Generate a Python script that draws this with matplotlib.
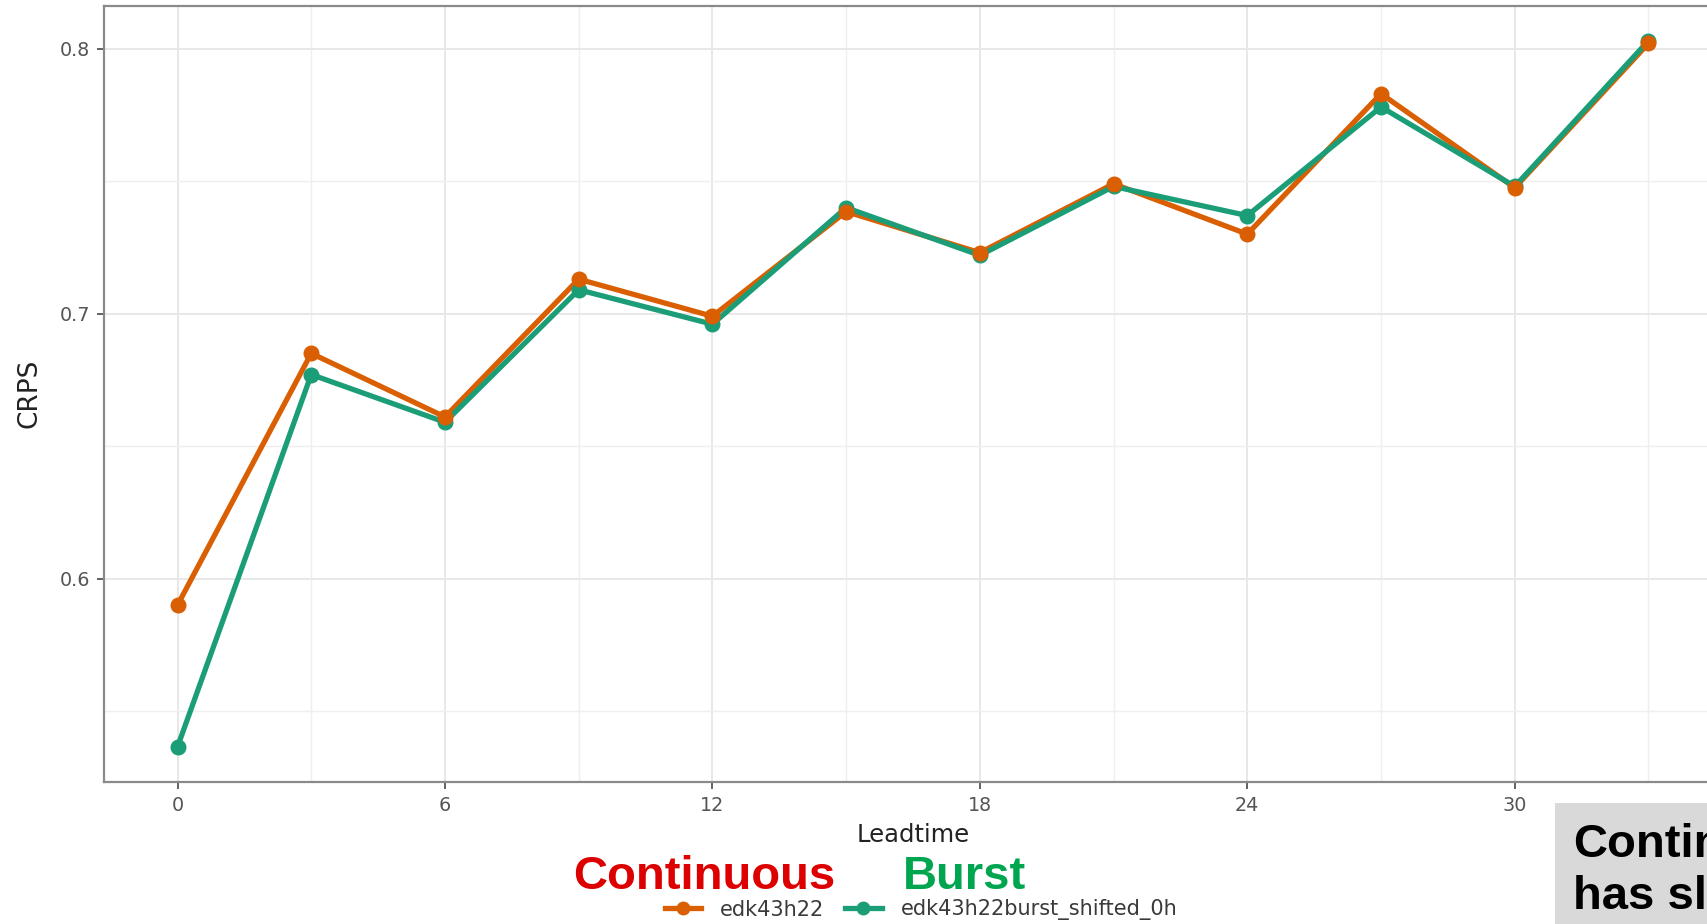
import matplotlib
matplotlib.use('Agg')
import matplotlib.pyplot as plt
from matplotlib.lines import Line2D
from matplotlib.patches import Rectangle

# CRPS by leadtime for the two runs
leadtime = [0, 3, 6, 9, 12, 15, 18, 21, 24, 27, 30, 33]
crps_continuous = [0.590, 0.685, 0.661, 0.713, 0.699, 0.7385, 0.723, 0.749, 0.730, 0.783, 0.7475, 0.802]
crps_burst = [0.5365, 0.677, 0.659, 0.709, 0.696, 0.740, 0.722, 0.748, 0.737, 0.778, 0.748, 0.803]
series_names = ['edk43h22', 'edk43h22burst_shifted_0h']

x_ticks = [0, 6, 12, 18, 24, 30]
x_minor = [3, 9, 15, 21, 27, 33]
y_ticks = [0.6, 0.7, 0.8]
y_minor = [0.55, 0.65, 0.75]

orange = '#D95F02'
green = '#1B9E77'

plt.rcParams['font.family'] = ['DejaVu Sans']

W, H = 1707, 924
fig = plt.figure(figsize=(W / 100, H / 100), dpi=100)

# panel runs past the right edge of the figure
left, right, top, bottom = 104, 1722, 5.5, 782
ax = fig.add_axes([left / W, (H - bottom) / H, (right - left) / W, (bottom - top) / H])

ax.plot(leadtime, crps_continuous, color=orange, lw=3.8, zorder=3)
ax.plot(leadtime, crps_burst, color=green, lw=3.8, zorder=3)
ax.plot(leadtime, crps_burst, 'o', color=green, ms=10.5, zorder=4)
ax.plot(leadtime, crps_continuous, 'o', color=orange, ms=10.5, zorder=4)

ax.set_xlim(-1.65, 34.65)
ax.set_ylim(0.5232, 0.8163)
ax.set_xticks(x_ticks)
ax.set_xticks(x_minor, minor=True)
ax.set_yticks(y_ticks)
ax.set_yticks(y_minor, minor=True)
ax.set_yticklabels([f'{v:.1f}' for v in y_ticks])

ax.grid(which='major', color='#e8e8e8', lw=1.4, zorder=0)
ax.grid(which='minor', color='#efefef', lw=1.0, zorder=0)
ax.tick_params(which='major', length=5, width=1.3, color='#555555',
               labelcolor='#555555', labelsize=13.8, pad=5)
ax.tick_params(which='minor', length=0)
for s in ax.spines.values():
    s.set_color('#8a8a8a')
    s.set_linewidth(1.6)

ax.set_xlabel('Leadtime', fontsize=17.5, color='#222222', labelpad=6)
ax.set_ylabel('CRPS', fontsize=19, color='#222222', labelpad=12)

# legend under the axis title
handles = [Line2D([], [], color=orange, lw=3.8, marker='o', ms=9),
           Line2D([], [], color=green, lw=3.8, marker='o', ms=9)]
fig.legend(handles, series_names, loc='center', bbox_to_anchor=(921 / W, 1 - 910 / H),
           ncol=2, frameon=False, fontsize=15, handlelength=1.75, handletextpad=0.9,
           columnspacing=1.0, labelcolor='#3a3a3a', borderpad=0)

# run labels above the legend
fig.text(704 / W, 1 - 877 / H, 'Continuous', color='#DD0000', fontsize=34,
         fontweight='bold', family='Liberation Sans', ha='center', va='center')
fig.text(964 / W, 1 - 877 / H, 'Burst', color='#00A550', fontsize=34,
         fontweight='bold', family='Liberation Sans', ha='center', va='center')

# note box at the lower right
fig.patches.append(Rectangle((1555 / W, 0), 1, (H - 803) / H, transform=fig.transFigure,
                             facecolor='#d9d9d9', edgecolor='none', zorder=5))
fig.text(1573 / W, 1 - 857 / H, 'Continuous', fontsize=34, fontweight='bold',
         family='Liberation Sans', color='black', va='baseline', zorder=6)
fig.text(1573 / W, 1 - 909 / H, 'has slightly', fontsize=34, fontweight='bold',
         family='Liberation Sans', color='black', va='baseline', zorder=6)

fig.savefig('out.png', dpi=100)
